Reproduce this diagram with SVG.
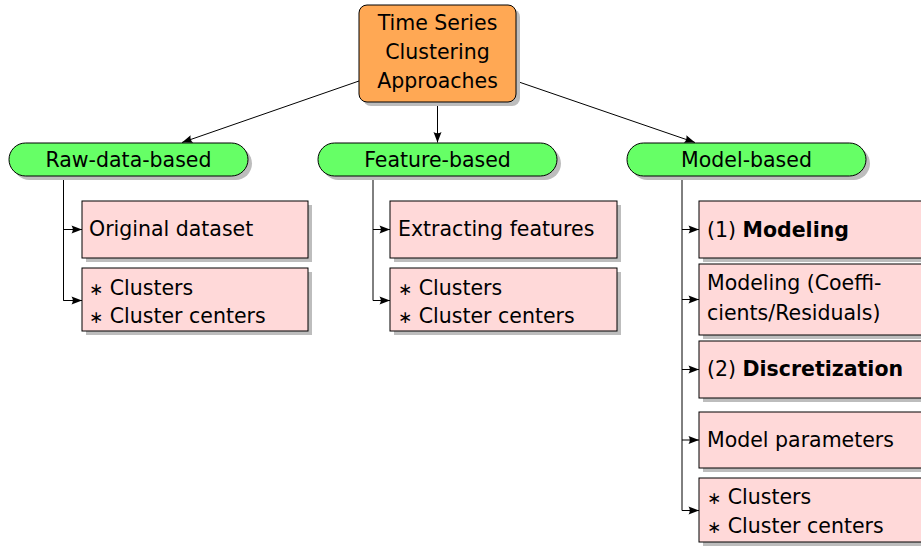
<svg xmlns="http://www.w3.org/2000/svg" width="921" height="547" viewBox="0 0 921 547">
  <style>
    text { font-family: "DejaVu Sans", "Liberation Sans", sans-serif; font-size: 20.5px; fill: #000; }
    .mid { text-anchor: middle; }
    .b { font-weight: bold; }
    .ast { font-size: 17px; }
    .shadow { fill: #BDBDBD; stroke: none; }
    .root { fill: #FFA854; stroke: #000; stroke-width: 1; }
    .cat { fill: #66FF66; stroke: #000; stroke-width: 1; }
    .leaf { fill: #FFD9D9; stroke: #000; stroke-width: 1; }
    .edge { fill: none; stroke: #000; stroke-width: 1; marker-end: url(#tip); }
    .trunk { fill: none; stroke: #000; stroke-width: 1; }
  </style>
  <defs>
    <marker id="tip" markerUnits="userSpaceOnUse" markerWidth="14" markerHeight="10" viewBox="-12 -5 14 10" refX="0" refY="0" orient="auto">
      <path d="M0,0 L-10.5,-4 Q-8,0 -10.5,4 Z" fill="#000"/>
    </marker>
  </defs>

  <rect width="921" height="547" fill="#fff"/>

  <!-- connectors -->
  <g id="connectors">
    <line class="edge" x1="359" y1="81" x2="182" y2="142.5"/>
    <line class="edge" x1="437.5" y1="102" x2="437.5" y2="142.5"/>
    <line class="edge" x1="516" y1="81" x2="695" y2="142.5"/>

    <polyline class="trunk" points="63.5,176 63.5,300.5 70,300.5"/>
    <line class="edge" x1="63.5" y1="229.5" x2="82" y2="229.5"/>
    <line class="edge" x1="63.5" y1="300.5" x2="82" y2="300.5"/>

    <polyline class="trunk" points="373,176 373,300.5 380,300.5"/>
    <line class="edge" x1="373" y1="229.5" x2="390" y2="229.5"/>
    <line class="edge" x1="373" y1="300.5" x2="390" y2="300.5"/>

    <polyline class="trunk" points="682,176 682,510.5 690,510.5"/>
    <line class="edge" x1="682" y1="229.5" x2="699" y2="229.5"/>
    <line class="edge" x1="682" y1="299.5" x2="699" y2="299.5"/>
    <line class="edge" x1="682" y1="369.5" x2="699" y2="369.5"/>
    <line class="edge" x1="682" y1="440" x2="699" y2="440"/>
    <line class="edge" x1="682" y1="510.5" x2="699" y2="510.5"/>
  </g>

  <!-- root -->
  <g id="root">
    <rect class="shadow" x="363" y="9" width="157" height="97" rx="8"/>
    <rect class="root" x="359" y="5" width="157" height="97" rx="8"/>
    <text class="mid" x="437.5" y="30">Time Series</text>
    <text class="mid" x="437.5" y="59">Clustering</text>
    <text class="mid" x="437.5" y="88">Approaches</text>
  </g>

  <!-- categories -->
  <g id="raw">
    <rect class="shadow" x="13" y="147" width="239" height="33" rx="16.5"/>
    <rect class="cat" x="9" y="143" width="239" height="33" rx="16.5"/>
    <text class="mid" x="128.5" y="167">Raw-data-based</text>
  </g>
  <g id="feature">
    <rect class="shadow" x="322" y="147" width="239" height="33" rx="16.5"/>
    <rect class="cat" x="318" y="143" width="239" height="33" rx="16.5"/>
    <text class="mid" x="437.5" y="167">Feature-based</text>
  </g>
  <g id="model">
    <rect class="shadow" x="631" y="147" width="239" height="33" rx="16.5"/>
    <rect class="cat" x="627" y="143" width="239" height="33" rx="16.5"/>
    <text class="mid" x="746.5" y="167">Model-based</text>
  </g>

  <!-- raw-data-based leaves -->
  <g id="raw-original">
    <rect class="shadow" x="86" y="205" width="226" height="57"/>
    <rect class="leaf" x="82" y="201" width="226" height="57"/>
    <text x="89" y="236">Original dataset</text>
  </g>
  <g id="raw-clusters">
    <rect class="shadow" x="86" y="272" width="226" height="63"/>
    <rect class="leaf" x="82" y="268" width="226" height="63"/>
    <text x="89" y="295"><tspan class="ast">∗</tspan> Clusters</text>
    <text x="89" y="323"><tspan class="ast">∗</tspan> Cluster centers</text>
  </g>

  <!-- feature-based leaves -->
  <g id="feature-extract">
    <rect class="shadow" x="394" y="205" width="227" height="57"/>
    <rect class="leaf" x="390" y="201" width="227" height="57"/>
    <text x="398" y="236">Extracting features</text>
  </g>
  <g id="feature-clusters">
    <rect class="shadow" x="394" y="272" width="227" height="63"/>
    <rect class="leaf" x="390" y="268" width="227" height="63"/>
    <text x="398" y="295"><tspan class="ast">∗</tspan> Clusters</text>
    <text x="398" y="323"><tspan class="ast">∗</tspan> Cluster centers</text>
  </g>

  <!-- model-based leaves -->
  <g id="model-step1">
    <rect class="shadow" x="703" y="205" width="240" height="57"/>
    <rect class="leaf" x="699" y="201" width="240" height="57"/>
    <text x="707" y="237">(1) <tspan class="b">Modeling</tspan></text>
  </g>
  <g id="model-coeff">
    <rect class="shadow" x="703" y="268" width="240" height="71"/>
    <rect class="leaf" x="699" y="264" width="240" height="71"/>
    <text x="707" y="290">Modeling (Coeffi-</text>
    <text x="707" y="320">cients/Residuals)</text>
  </g>
  <g id="model-step2">
    <rect class="shadow" x="703" y="345" width="240" height="57"/>
    <rect class="leaf" x="699" y="341" width="240" height="57"/>
    <text x="707" y="376">(2) <tspan class="b">Discretization</tspan></text>
  </g>
  <g id="model-params">
    <rect class="shadow" x="703" y="416" width="240" height="56"/>
    <rect class="leaf" x="699" y="412" width="240" height="56"/>
    <text x="707" y="447">Model parameters</text>
  </g>
  <g id="model-clusters">
    <rect class="shadow" x="703" y="482" width="240" height="64"/>
    <rect class="leaf" x="699" y="478" width="240" height="64"/>
    <text x="707" y="504"><tspan class="ast">∗</tspan> Clusters</text>
    <text x="707" y="533"><tspan class="ast">∗</tspan> Cluster centers</text>
  </g>
</svg>
